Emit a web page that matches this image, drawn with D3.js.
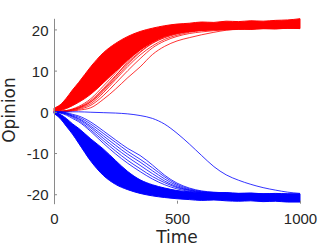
<!DOCTYPE html>
<html>
<head>
<meta charset="utf-8">
<script src="https://cdn.jsdelivr.net/npm/d3@7"></script>
<style>
  body { margin: 0; background: #fff; }
  svg { display: block; font-family: "DejaVu Sans", sans-serif; }
  .tick text { fill: #262626; font-size: 15px; }
</style>
</head>
<body>
<svg id="canvas" width="332" height="249"></svg>
<script>
"use strict";

// sample times shared by every series
const times = [0, 25, 50, 75, 100, 150, 200, 250, 300, 350, 400, 450, 500,
  550, 600, 650, 700, 750, 800, 850, 900, 950, 1000];

// edges of the dense bands
const redTop = [0.9, 1.7, 3.3, 5.3, 7.1, 11.0, 14.3, 16.6, 18.3, 19.5, 20.3, 20.9, 21.3,
  21.5, 21.8, 21.7, 22.0, 21.9, 22.1, 22.0, 22.2, 22.3, 22.6];
const redBottom = [-0.2, 0.3, 0.8, 1.5, 2.3, 4.3, 7.0, 9.8, 12.6, 15.0, 16.9, 18.3, 19.1,
  19.5, 19.8, 19.9, 20.0, 20.1, 20.0, 20.2, 20.1, 20.3, 20.2];
const blueTop = [0.1, -0.6, -1.6, -2.9, -4.0, -6.6, -9.0, -11.8, -14.5, -16.5, -17.7, -18.5, -19.1,
  -19.4, -19.6, -19.7, -19.6, -19.8, -19.7, -19.9, -19.8, -19.9, -19.9];
const blueBottom = [-0.4, -1.6, -3.5, -5.4, -7.6, -12.0, -15.4, -17.6, -18.9, -19.8, -20.4, -20.8, -21.1,
  -21.3, -21.5, -21.4, -21.6, -21.7, -21.6, -21.8, -21.7, -21.9, -21.9];

// slower runs outside the bands
const redSlow = [
  [0, 0, 0.1, 0.2, 0.4, 1.0, 3.0, 5.5, 8.3, 10.9, 13.9, 15.9, 17.2, 18.0, 18.7, 19.3, 19.8, 20.1, 20.3, 20.4, 20.5, 20.5, 20.6],
  [0, 0, 0.1, 0.3, 0.6, 1.6, 3.9, 6.9, 10.0, 12.9, 15.5, 17.2, 18.3, 19.0, 19.4, 19.7, 19.9, 20.0, 20.1, 20.2, 20.2, 20.3, 20.3],
  [0, 0.1, 0.2, 0.4, 0.8, 2.0, 4.6, 7.8, 11.0, 13.8, 16.0, 17.6, 18.6, 19.3, 19.7, 19.9, 20.0, 20.1, 20.2, 20.2, 20.3, 20.3, 20.4],
  [0, 0.1, 0.2, 0.5, 0.9, 2.4, 5.0, 8.2, 11.5, 14.4, 16.6, 18.0, 18.9, 19.5, 19.8, 20.0, 20.1, 20.2, 20.2, 20.3, 20.3, 20.4, 20.4],
  [0, 0.1, 0.3, 0.6, 1.1, 2.8, 5.6, 8.8, 11.9, 14.6, 16.7, 18.1, 19.0, 19.5, 19.8, 20.0, 20.1, 20.2, 20.3, 20.3, 20.4, 20.4, 20.5],
  [0, 0.1, 0.2, 0.5, 1.0, 2.5, 5.3, 8.6, 12.2, 15.0, 17.0, 18.4, 19.2, 19.6, 19.9, 20.1, 20.2, 20.2, 20.3, 20.4, 20.4, 20.5, 20.5],
  [0, 0.1, 0.3, 0.7, 1.3, 3.2, 6.2, 9.4, 12.7, 15.3, 17.3, 18.6, 19.3, 19.7, 20.0, 20.1, 20.2, 20.3, 20.3, 20.4, 20.5, 20.5, 20.6]
];
const blueSlow = [
  [0, 0, -0.2, -0.6, -1.0, -2.5, -4.6, -6.8, -8.9, -10.6, -12.9, -15.4, -17.3, -18.5, -19.2, -19.5, -19.7, -19.8, -19.8, -19.9, -19.9, -20.0, -20.0],
  [0, -0.1, -0.3, -0.8, -1.3, -3.0, -5.2, -7.4, -9.6, -11.5, -13.6, -15.8, -17.6, -18.7, -19.3, -19.6, -19.8, -19.9, -19.9, -20.0, -20.0, -20.0, -20.1],
  [0, -0.1, -0.4, -1.0, -1.6, -3.5, -5.8, -8.1, -10.3, -12.2, -14.3, -16.3, -17.9, -18.9, -19.4, -19.7, -19.8, -19.9, -20.0, -20.0, -20.1, -20.1, -20.1],
  [0, -0.2, -0.5, -1.1, -1.8, -3.9, -6.4, -8.8, -11.0, -13.0, -15.0, -16.8, -18.2, -19.0, -19.5, -19.7, -19.9, -20.0, -20.0, -20.1, -20.1, -20.2, -20.2],
  [0, -0.2, -0.6, -1.3, -2.1, -4.4, -7.0, -9.5, -11.8, -13.8, -15.7, -17.2, -18.4, -19.1, -19.6, -19.8, -19.9, -20.0, -20.1, -20.1, -20.2, -20.2, -20.3],
  [0, -0.3, -0.8, -1.6, -2.4, -4.8, -7.6, -10.2, -12.5, -14.5, -16.3, -17.7, -18.7, -19.3, -19.7, -19.8, -19.9, -20.0, -20.1, -20.1, -20.2, -20.2, -20.3],
  [0, 0, 0, 0, 0, -0.1, -0.2, -0.3, -0.5, -0.9, -1.6, -3.0, -5.2, -7.8, -10.6, -13.3, -15.3, -16.6, -17.6, -18.4, -19.0, -19.5, -19.8]
];

const xTicks = [0, 500, 1000];
const yTicks = [-20, -10, 0, 10, 20];

const svg = d3.select("#canvas");

const x = d3.scaleLinear().domain([0, 1000]).range([54, 300]);
const y = d3.scaleLinear().domain([-22.3, 22.7]).range([203.7, 18.3]);

const band = (top, bottom) =>
  d3.area()
    .x((d, i) => x(times[i]))
    .y0((d, i) => y(bottom[i]))
    .y1((d, i) => y(top[i]))
    .curve(d3.curveMonotoneX)(times);

const line = d3.line()
  .x((d, i) => x(times[i]))
  .y((d) => y(d))
  .curve(d3.curveMonotoneX);

const drawGroup = (top, bottom, slow, color) => {
  svg.append("path")
    .attr("d", band(top, bottom))
    .attr("fill", color)
    .attr("stroke", color)
    .attr("stroke-width", 1);

  svg.append("g")
    .selectAll("path")
    .data(slow)
    .enter()
    .append("path")
    .attr("d", (s) => line(s))
    .attr("fill", "none")
    .attr("stroke", color)
    .attr("stroke-width", 0.8);
};

drawGroup(redTop, redBottom, redSlow, "#ff0000");
drawGroup(blueTop, blueBottom, blueSlow, "#0000ff");

// y axis, ticks inward
const yAxis = svg.append("g")
  .attr("transform", `translate(${x(0)},0)`)
  .call(d3.axisLeft(y).tickValues(yTicks).tickFormat((d) => String(d))
    .tickSizeInner(-3).tickSizeOuter(0).tickPadding(5.5));
yAxis.selectAll("line, path").attr("stroke", "#8a8a8a");
yAxis.selectAll("text").attr("dy", "0.38em");

// x axis: ticks and labels only
const xAxis = svg.append("g")
  .attr("transform", `translate(0,${y(-22.3)})`)
  .call(d3.axisBottom(x).tickValues(xTicks).tickFormat((d) => String(d))
    .tickSizeInner(-3).tickSizeOuter(0).tickPadding(10));
xAxis.select(".domain").remove();
xAxis.selectAll("line").attr("stroke", "#8a8a8a");

svg.append("text")
  .attr("x", 177)
  .attr("y", 243)
  .attr("text-anchor", "middle")
  .attr("font-size", 17)
  .attr("fill", "#262626")
  .text("Time");

svg.append("text")
  .attr("transform", "translate(15,110) rotate(-90)")
  .attr("text-anchor", "middle")
  .attr("font-size", 17)
  .attr("fill", "#262626")
  .text("Opinion");
</script>
</body>
</html>
